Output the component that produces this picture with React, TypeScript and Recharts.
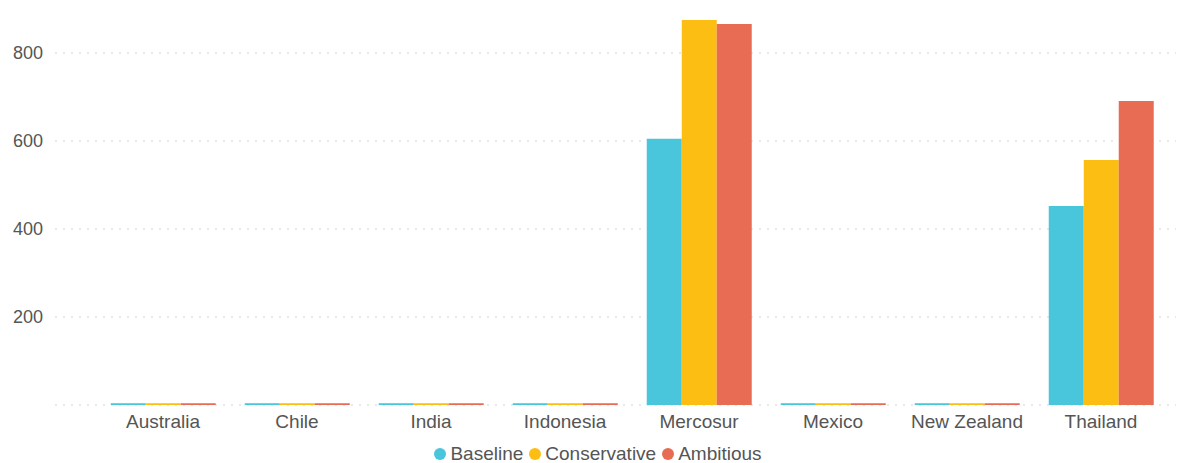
import React from 'react';
import { BarChart, Bar, CartesianGrid, XAxis, YAxis, Legend } from 'recharts';

const countries = ['Australia', 'Chile', 'India', 'Indonesia', 'Mercosur', 'Mexico', 'New Zealand', 'Thailand'];
const baseline = [4, 4, 4, 4, 605, 4, 4, 452];
const conservative = [4, 4, 4, 4, 875, 4, 4, 557];
const ambitious = [4, 4, 4, 4, 866, 4, 4, 691];
const yTicks = [0, 200, 400, 600, 800];

const seriesNames = ['Baseline', 'Conservative', 'Ambitious'];
const seriesColors = ['#49C5DC', '#FCBE12', '#E86B54'];

const data = countries.map((name, i) => ({
    name,
    Baseline: baseline[i],
    Conservative: conservative[i],
    Ambitious: ambitious[i],
}));

const font = '"Liberation Sans", Arial, sans-serif';

const renderLegend = () => (
    <div style={{ display: 'flex', justifyContent: 'center', alignItems: 'center', height: 22, paddingLeft: 26, fontFamily: font, fontSize: 19, color: '#555' }}>
        {seriesNames.map((s, i) => (
            <span key={s} style={{ display: 'flex', alignItems: 'center', marginRight: 6 }}>
                <span style={{ width: 12, height: 12, borderRadius: 6, background: seriesColors[i], marginRight: 4, display: 'inline-block' }} />
                {s}
            </span>
        ))}
    </div>
);

const App: React.FC = () => {
    return (
        <div style={{ position: 'fixed', left: 0, top: 0, width: 1181, height: 463, background: '#fff', fontFamily: font, overflow: 'hidden' }}>
            <BarChart width={1181} height={463} data={data} barGap={0} barCategoryGap="11%"
                margin={{ top: 9, right: 5, left: 0, bottom: 6 }}>
                <CartesianGrid vertical={false} horizontalValues={yTicks} strokeDasharray="2 6" stroke="#d4d4d4" />
                <XAxis dataKey="name" axisLine={false} tickLine={false} tickMargin={4} height={30}
                    padding={{ left: 41, right: 8 }}
                    tick={{ fill: '#555', fontSize: 19, fontFamily: font }} interval={0} />
                <YAxis width={55} axisLine={false} tickLine={false} tickMargin={6} domain={[0, 900]} ticks={yTicks}
                    tickFormatter={(v: number) => (v === 0 ? '' : String(v))}
                    tick={{ fill: '#555', fontSize: 18, fontFamily: font }} />
                <Legend verticalAlign="bottom" height={22} content={renderLegend}
                    wrapperStyle={{ bottom: -2 }} />
                {seriesNames.map((s, i) => (
                    <Bar key={s} dataKey={s} fill={seriesColors[i]} isAnimationActive={false} />
                ))}
            </BarChart>
        </div>
    );
};

export default App;
